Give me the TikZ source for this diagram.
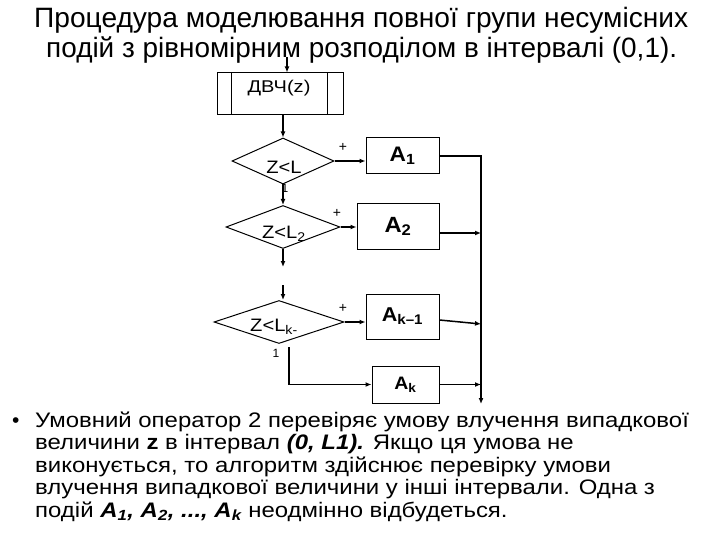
\documentclass[tikz,border=0pt]{standalone}
\usepackage{fontspec}
\setmainfont{Liberation Sans}
\usetikzlibrary{shapes.geometric,arrows.meta}
\newcommand\mywiden[2]{\scalebox{#1}[1]{#2}}
\tikzset{
  conn/.style={line width=1.5pt,-{Latex[length=6pt,width=5pt]}},
  bus/.style={line width=2pt,-{Latex[length=6pt,width=5pt]}},
  box/.style={draw,line width=1pt,rectangle,inner sep=0pt},
  dia/.style={draw,line width=1pt,diamond,inner sep=0pt},
  ttl/.style={anchor=base west,inner sep=0pt,font=\fontsize{28pt}{30pt}\selectfont},
  body/.style={anchor=base west,inner sep=0pt,font=\fontsize{21pt}{23pt}\selectfont},
  cond/.style={inner sep=0pt,font=\fontsize{18pt}{20pt}\selectfont},
  plus/.style={inner sep=0pt,font=\fontsize{14pt}{16pt}\selectfont},
  one/.style={inner sep=0pt,font=\fontsize{12pt}{14pt}\selectfont},
}
\begin{document}
\begin{tikzpicture}[x=1pt,y=-1pt]
\useasboundingbox[fill=white] (0,0) rectangle (720,540);
% title
\node[ttl] (t1) at (34,27.5) {\resizebox{654pt}{\height}{Процедура моделювання повної групи несумісних}};
\node[ttl] (t2) at (46,58) {\resizebox{631pt}{\height}{подій з рівномірним розподілом в інтервалі (0,1).}};
% flowchart
\coordinate (in) at (287,57);
\node[box,minimum width=126pt,minimum height=42pt] (dvch) at (280,94) {};
\draw[line width=1pt] ([xshift=15pt]dvch.north west) -- ([xshift=15pt]dvch.south west);
\draw[line width=1pt] ([xshift=-16pt]dvch.north east) -- ([xshift=-16pt]dvch.south east);
\node[inner sep=0pt,font=\fontsize{17pt}{19pt}\selectfont] (dvcht) at (279,88) {\mywiden{1.18}{ДВЧ(z)}};
\draw[conn] (in) -- (in |- dvch.north);

\node[dia,minimum width=102pt,minimum height=46pt] (d1) at (283,161) {};
\node[dia,minimum width=114pt,minimum height=43pt] (d2) at (283,227) {};
\node[dia,minimum width=130pt,minimum height=43pt] (d3) at (279,322) {};
\node[cond] (d1t) at (284,167) {\mywiden{1.12}{Z<L}};
\node[cond] (d2t) at (284,234) {\mywiden{1.12}{Z<L\textsubscript{2}}};
\node[cond] (d3t) at (274,327) {\mywiden{1.12}{Z<L\textsubscript{k-}}};
\node[plus] (p1) at (343,147) {+};
\node[plus] (p2) at (337,213) {+};
\node[plus] (p3) at (343,308) {+};
\node[one] (o1) at (285,188) {1};
\node[one] (o3) at (276,353) {1};

\draw[conn] (d1.north |- dvch.south) -- (d1.north);
\draw[conn] (d1.south) -- (d2.north);
\coordinate (g1) at (283,267);
\coordinate (g2) at (283,285);
\draw[conn] (d2.south) -- (g1);
\draw[conn] (g2) -- (g2 |- d3.north);

\node[box,minimum width=73pt,minimum height=36pt,font=\fontsize{21pt}{23pt}\selectfont\bfseries] (A1) at (402.5,156) {\mywiden{1.08}{A\textsubscript{1}}};
\node[box,minimum width=82pt,minimum height=45pt,font=\fontsize{22pt}{24pt}\selectfont\bfseries] (A2) at (398,226.5) {\mywiden{1.08}{A\textsubscript{2}}};
\node[box,minimum width=73pt,minimum height=45pt,font=\fontsize{20pt}{22pt}\selectfont\bfseries] (A3) at (402.5,316.5) {\raisebox{4pt}{\mywiden{1.08}{A\textsubscript{k--1}}}};
\node[box,minimum width=67pt,minimum height=37pt,font=\fontsize{18pt}{20pt}\selectfont\bfseries] (A4) at (405.5,384.5) {\mywiden{1.08}{A\textsubscript{k}}};

\draw[conn] (d1.east) -- (d1.east -| A1.west);
\draw[conn] (d2.east) -- (d2.east -| A2.west);
\draw[conn] (d3.east) -- (d3.east -| A3.west);

\coordinate (bt) at (481,156);
\coordinate (bb) at (481,404);
\coordinate (b3) at (481,324);
\coordinate (lk) at (289,347);
\draw[bus] (A1.east) -- (bt) -- (bb);
\draw[conn] ([yshift=-6.5pt]A2.east) -- ([yshift=-6.5pt]A2.east -| bt);
\draw[conn] ([yshift=-3.5pt]A3.east) -- (b3);
\draw[conn] (A4.east) -- (A4.east -| bt);
\draw[conn] (lk) |- (A4.west);

% body text
\node[body] (bul) at (12,427) {•};
\node[body] (l1) at (35,427) {\mywiden{1.14}{Умовний оператор 2 перевіряє умову влучення випадкової}};
\node[body] (l2) at (35,449.5) {\mywiden{1.14}{величини \textbf{z} в інтервал \textbf{\textit{(0, L1).}} Якщо ця умова не}};
\node[body] (l3) at (35,472) {\mywiden{1.14}{виконується, то алгоритм здійснює перевірку умови}};
\node[body] (l4) at (35,494.5) {\mywiden{1.14}{влучення випадкової величини у інші інтервали. Одна з}};
\node[body] (l5) at (35,517) {\mywiden{1.14}{подій \textbf{\textit{A\textsubscript{1}, A\textsubscript{2}, ..., A\textsubscript{k}}} неодмінно відбудеться.}};
\end{tikzpicture}
\end{document}
